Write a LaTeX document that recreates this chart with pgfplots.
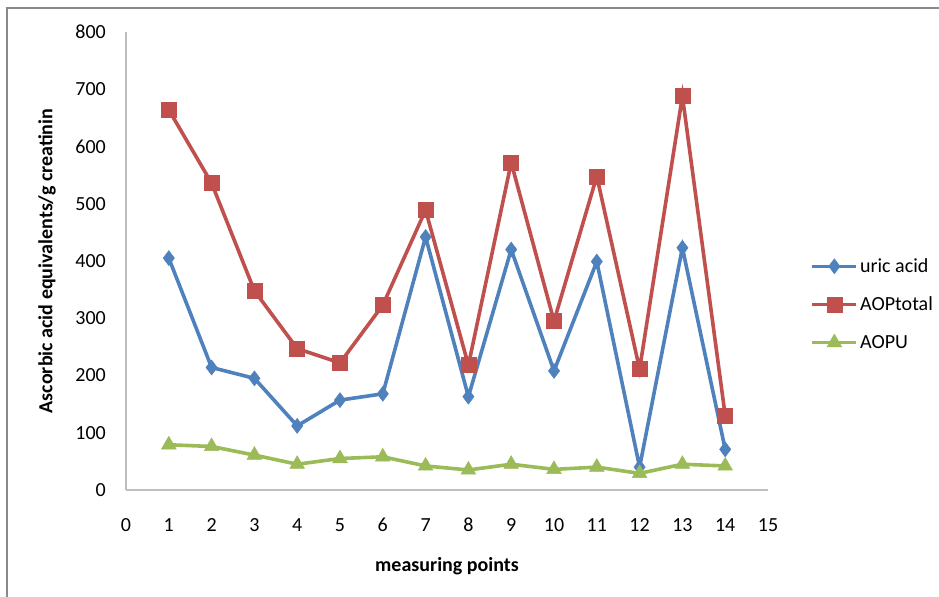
\documentclass[border=0pt]{standalone}
\usepackage{pgfplots}
\pgfplotsset{compat=1.18}
\usepackage{fontspec}
\setmainfont{Carlito}
\definecolor{cblue}{HTML}{4F81BD}
\definecolor{cred}{HTML}{C0504D}
\definecolor{cgreen}{HTML}{9BBB59}
\definecolor{axgray}{RGB}{190,190,190}
\definecolor{bordergray}{RGB}{137,137,137}
\begin{document}
\begin{tikzpicture}
\path[use as bounding box] (0bp,0bp) rectangle (939bp,597bp);
\draw[bordergray, line width=2bp] (7bp,0bp) -- (7bp,589bp) -- (939bp,589bp);
\begin{axis}[
  at={(126bp,107bp)}, anchor=south west,
  scale only axis, width=642bp, height=458bp,
  xmin=0, xmax=15, ymin=0, ymax=800,
  xtick={0,1,...,15}, ytick={0,100,...,800},
  axis x line*=bottom, axis y line*=left,
  axis line style={axgray, line width=1.2bp, -},
  major tick length=0pt,
  tick style={draw=none},
  font=\fontsize{20bp}{23bp}\selectfont,
  /pgf/number format/assume math mode=true,
  yticklabel style={anchor=east, inner sep=0pt, xshift=-20bp},
  xticklabel style={anchor=center, inner sep=0pt, yshift=-35bp},
  xlabel={\textbf{measuring points}},
  ylabel={\textbf{Ascorbic acid equivalents/g creatinin}},
  xlabel style={at={(rel axis cs:0.5,-0.166)}, anchor=center},
  ylabel style={at={(rel axis cs:-0.123,0.5)}, anchor=center, rotate=0},
  legend style={draw=none, fill=none, at={(rel axis cs:1.066,0.51)}, anchor=north west,
    row sep=19bp, font=\fontsize{20bp}{23bp}\selectfont, inner sep=0pt,
    nodes={inner sep=2bp}},
  legend cell align=left,
  legend image code/.code={\draw[mark repeat=2,mark phase=2] plot coordinates {(0bp,0bp) (22bp,0bp) (44bp,0bp)};},
  every axis plot/.append style={line width=3.6bp},
]
\addplot[cblue, mark=diamond*, mark size=7.5bp, mark options={solid, line width=0.5bp}] coordinates {
(1,405) (2,214) (3,195) (4,112) (5,157) (6,168) (7,442) (8,163) (9,420) (10,208) (11,399) (12,40) (13,423) (14,71)};
\addlegendentry{uric acid}
\addplot[cred, mark=square*, mark size=7.5bp, mark options={solid, line width=0.5bp}] coordinates {
(1,664) (2,536) (3,348) (4,247) (5,222) (6,323) (7,489) (8,218) (9,572) (10,295) (11,548) (12,211) (13,688) (14,130)};
\addlegendentry{AOPtotal}
\addplot[cgreen, mark=triangle*, mark size=8.5bp, mark options={solid, line width=0.5bp}] coordinates {
(1,79) (2,76) (3,61) (4,45) (5,55) (6,58) (7,42) (8,35) (9,45) (10,36) (11,40) (12,29) (13,45) (14,42)};
\addlegendentry{AOPU}
\end{axis}
\end{tikzpicture}
\end{document}
